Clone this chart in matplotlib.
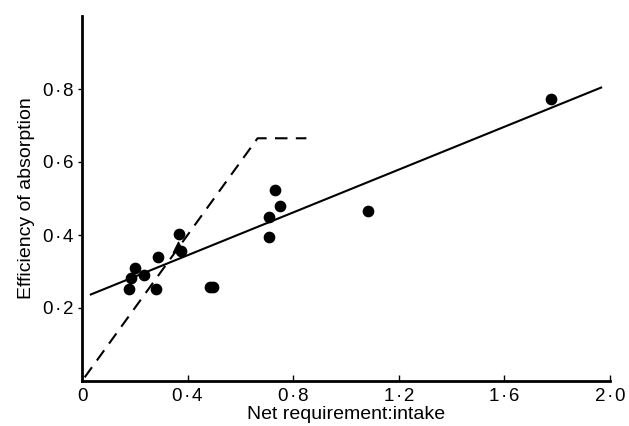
import matplotlib
matplotlib.use("Agg")
import matplotlib.pyplot as plt
from matplotlib.ticker import FuncFormatter

plt.rcParams['font.family'] = ['Liberation Sans', 'DejaVu Sans']

# observed points
x_pts = [0.179, 0.184, 0.200, 0.235, 0.280, 0.289, 0.367, 0.375, 0.485, 0.497,
         0.709, 0.709, 0.731, 0.750, 1.085, 1.775]
y_pts = [0.251, 0.281, 0.310, 0.290, 0.251, 0.341, 0.402, 0.355, 0.258, 0.258,
         0.395, 0.450, 0.523, 0.479, 0.466, 0.773]
tri_x = [0.365]
tri_y = [0.368]

# fitted regression line
fit_x = [0.03, 1.97]
fit_y = [0.236, 0.805]

# theoretical (dashed) line
dash_x = [0.01, 0.665, 0.85]
dash_y = [0.01, 0.665, 0.665]

xticks = [0, 0.4, 0.8, 1.2, 1.6, 2.0]
yticks = [0.2, 0.4, 0.6, 0.8]

fig = plt.figure(figsize=(6.29, 4.26), dpi=100)
ax = fig.add_axes([82/629, 45/426, 528/629, 365/426])

ax.plot(fit_x, fit_y, color='black', lw=1.5, solid_capstyle='butt')
ax.plot(dash_x, dash_y, color='black', lw=1.5, dashes=(6, 4))
ax.scatter(x_pts, y_pts, s=55, color='black', zorder=3)
ax.scatter(tri_x, tri_y, s=55, marker='^', color='black', zorder=3)

ax.set_xlim(0, 2.0)
ax.set_ylim(0, 1.0)
for s in ['top', 'right']:
    ax.spines[s].set_visible(False)
for s in ['left', 'bottom']:
    ax.spines[s].set_linewidth(2)

def _fmt(v, p):
    if abs(v) < 1e-9:
        return '0'
    return f'{v:.1f}'.replace('.', '\u200a·\u200a')

fmt = FuncFormatter(_fmt)
ax.set_xticks(xticks)
ax.set_yticks(yticks)
ax.xaxis.set_major_formatter(fmt)
ax.yaxis.set_major_formatter(fmt)
ax.tick_params(axis='x', direction='in', length=4, width=1, labelsize=13.5, pad=5)
ax.tick_params(axis='y', direction='out', length=3, width=1, labelsize=13.5, pad=3)

ax.set_xlabel('Net requirement:intake', fontsize=14, labelpad=1)
ax.set_ylabel('Efficiency of absorption', fontsize=14, labelpad=6)

fig.savefig('out.png', dpi=100)
